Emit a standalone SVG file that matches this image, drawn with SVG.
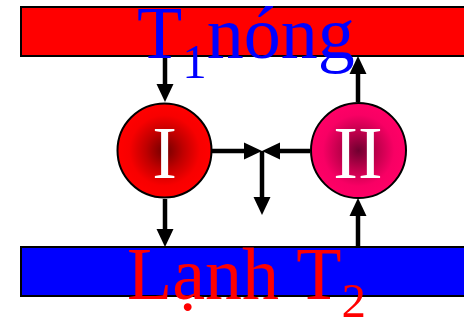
<svg xmlns="http://www.w3.org/2000/svg" width="464" height="323" viewBox="0 0 464 323">
<style>
.bar{stroke:#000;stroke-width:2}
.circ{stroke:#000;stroke-width:2}
.big{font-family:"Liberation Serif","Times New Roman",serif;font-size:74px}
.num{font-family:"Liberation Serif","Times New Roman",serif;font-size:74px;fill:#fff;text-anchor:middle}
.arr{stroke:#000;stroke-width:4.5;fill:none;marker-end:url(#ah)}
</style>
<defs>
<marker id="ah" markerUnits="userSpaceOnUse" markerWidth="18" markerHeight="18" refX="9" refY="8.5" orient="auto" overflow="visible">
<path d="M0,0 L18,8.5 L0,17 Z" fill="#000"/>
</marker>
<radialGradient id="g1" cx="0.5" cy="0.5" r="0.5">
<stop offset="0" stop-color="#700000"/>
<stop offset="0.4" stop-color="#c00000"/>
<stop offset="0.75" stop-color="#f80000"/>
<stop offset="1" stop-color="#ff0000"/>
</radialGradient>
<radialGradient id="g2" cx="0.5" cy="0.5" r="0.5">
<stop offset="0" stop-color="#700030"/>
<stop offset="0.4" stop-color="#c0004c"/>
<stop offset="0.75" stop-color="#f80064"/>
<stop offset="1" stop-color="#ff0066"/>
</radialGradient>
</defs>
<g id="hot">
<rect class="bar" x="21" y="7" width="460" height="49" fill="#ff0000"/>
</g>
<g id="cold">
<rect class="bar" x="21" y="247" width="460" height="49" fill="#0000ff"/>
</g>
<g id="connectors">
<path class="arr" d="M165,56 V93"/>
<path class="arr" d="M358,102 V65"/>
<path class="arr" d="M165,199 V238"/>
<path class="arr" d="M358,247 V207"/>
<path class="arr" d="M212,151 H253"/>
<path class="arr" d="M310,151 H271"/>
<path class="arr" d="M262,151 V206"/>
</g>
<g id="engine1">
<circle class="circ" cx="164.5" cy="150.5" r="47" fill="url(#g1)"/>
<text class="num" x="164.5" y="178">I</text>
</g>
<g id="engine2">
<circle class="circ" cx="358.5" cy="150.5" r="47.5" fill="url(#g2)"/>
<text class="num" x="358" y="178">II</text>
</g>
<g id="labels">
<text class="big" x="137" y="58" fill="#0000ff">T<tspan font-size="49" dy="20">1</tspan><tspan dy="-20">nóng</tspan></text>
<text class="big" x="127" y="299" fill="#ff0000">Lạnh T<tspan font-size="49" dy="18">2</tspan></text>
</g>
</svg>
